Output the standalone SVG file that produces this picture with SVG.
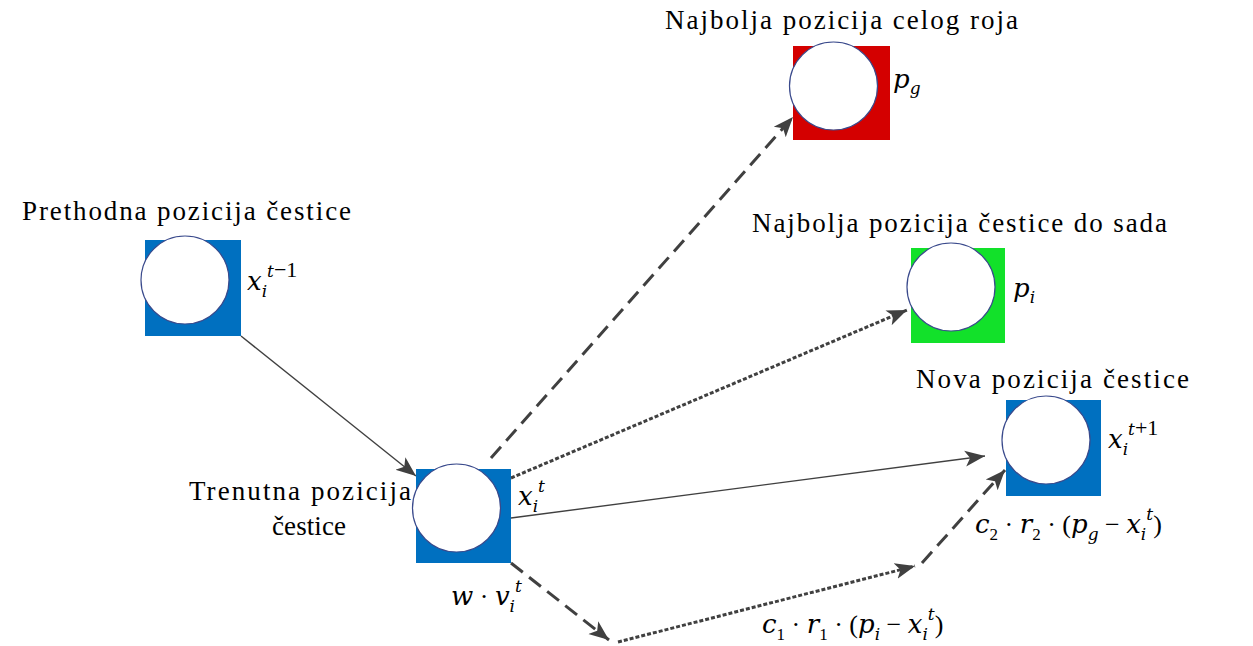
<svg xmlns="http://www.w3.org/2000/svg" width="1253" height="646" viewBox="0 0 1253 646">
  <style>
    text { font-family: 'Liberation Serif', 'Times New Roman', Tinos, 'DejaVu Serif', serif; fill: #000; }
    .lbl { font-size: 27px; }
    .math { font-size: 26px; }
    .sub { font-size: 17px; }
    .exp { font-size: 22px; }
    .ring { fill: #fff; stroke: #3a4a8c; stroke-width: 1.2; }
    .blue { fill: #0070c0; }
    .red { fill: #d40000; }
    .green { fill: #12e12a; }
    .edge { fill: none; stroke: #404040; }
    .solid { stroke-width: 1.4; }
    .dash { stroke-width: 3; stroke-dasharray: 15 8; }
    .dot { stroke-width: 3; stroke-dasharray: 4 2; }
  </style>
  <defs>
    <marker id="head" markerUnits="userSpaceOnUse" markerWidth="22" markerHeight="18" refX="20" refY="9" orient="auto">
      <path d="M0,1 L20,9 L0,17 L5,9 Z" fill="#404040"/>
    </marker>
  </defs>
  <rect width="1253" height="646" fill="#fff"/>

  <!-- connectors -->
  <g id="connectors">
    <line class="edge solid" x1="241" y1="336" x2="416" y2="476" marker-end="url(#head)"/>
    <line class="edge dash" x1="491" y1="458" x2="793" y2="117" marker-end="url(#head)"/>
    <line class="edge dot" x1="511" y1="478" x2="907" y2="310" marker-end="url(#head)"/>
    <line class="edge solid" x1="511" y1="518" x2="985" y2="456" marker-end="url(#head)"/>
    <line class="edge dash" x1="511" y1="563" x2="609" y2="640" marker-end="url(#head)"/>
    <line class="edge dot" x1="618" y1="642" x2="915" y2="566" marker-end="url(#head)"/>
    <line class="edge dash" x1="922" y1="563" x2="1005" y2="470" marker-end="url(#head)"/>
  </g>

  <!-- previous position -->
  <g id="node-previous">
    <rect class="blue" x="145" y="240" width="96" height="96"/>
    <circle class="ring" cx="185" cy="280" r="44"/>
    <text class="lbl" x="22" y="220" textLength="329" lengthAdjust="spacing">Prethodna pozicija čestice</text>
    <text class="math" x="247" y="290">𝑥<tspan class="sub" dy="7">𝑖</tspan><tspan class="sub" dy="-20">𝑡</tspan><tspan class="exp">−1</tspan></text>
  </g>

  <!-- current position -->
  <g id="node-current">
    <rect class="blue" x="416" y="469" width="95" height="94"/>
    <circle class="ring" cx="456.5" cy="508" r="44"/>
    <text class="lbl" x="189" y="500" textLength="222" lengthAdjust="spacing">Trenutna pozicija</text>
    <text class="lbl" x="272" y="535" textLength="74" lengthAdjust="spacing">čestice</text>
    <text class="math" x="518" y="505">𝑥<tspan class="sub" dy="7">𝑖</tspan><tspan class="sub" dy="-20">𝑡</tspan></text>
  </g>

  <!-- global best -->
  <g id="node-global-best">
    <rect class="red" x="793" y="46" width="97" height="94"/>
    <circle class="ring" cx="833.5" cy="86" r="44"/>
    <text class="lbl" x="665" y="29" textLength="353" lengthAdjust="spacing">Najbolja pozicija celog roja</text>
    <text class="math" x="893" y="88">𝑝<tspan class="sub" dy="6">𝑔</tspan></text>
  </g>

  <!-- personal best -->
  <g id="node-personal-best">
    <rect class="green" x="911" y="248" width="94" height="95"/>
    <circle class="ring" cx="951" cy="287" r="44"/>
    <text class="lbl" x="752" y="232" textLength="415" lengthAdjust="spacing">Najbolja pozicija čestice do sada</text>
    <text class="math" x="1013" y="297">𝑝<tspan class="sub" dy="6">𝑖</tspan></text>
  </g>

  <!-- new position -->
  <g id="node-new">
    <rect class="blue" x="1006" y="400" width="95" height="96"/>
    <circle class="ring" cx="1046" cy="440" r="44"/>
    <text class="lbl" x="916" y="388" textLength="273" lengthAdjust="spacing">Nova pozicija čestice</text>
    <text class="math" x="1108" y="448">𝑥<tspan class="sub" dy="7">𝑖</tspan><tspan class="sub" dy="-20">𝑡</tspan><tspan class="exp">+1</tspan></text>
  </g>

  <!-- velocity terms -->
  <g id="terms">
    <text class="math" x="451" y="605">𝑤 · 𝑣<tspan class="sub" dy="7">𝑖</tspan><tspan class="sub" dy="-20">𝑡</tspan></text>
    <text class="math" x="762" y="633">𝑐<tspan class="sub" dy="7">1</tspan><tspan dy="-7"> · 𝑟</tspan><tspan class="sub" dy="7">1</tspan><tspan dy="-7"> · (𝑝</tspan><tspan class="sub" dy="7">𝑖</tspan><tspan dy="-7"> − 𝑥</tspan><tspan class="sub" dy="7">𝑖</tspan><tspan class="sub" dy="-20">𝑡</tspan><tspan dy="13">)</tspan></text>
    <text class="math" x="975" y="533">𝑐<tspan class="sub" dy="7">2</tspan><tspan dy="-7"> · 𝑟</tspan><tspan class="sub" dy="7">2</tspan><tspan dy="-7"> · (𝑝</tspan><tspan class="sub" dy="7">𝑔</tspan><tspan dy="-7"> − 𝑥</tspan><tspan class="sub" dy="7">𝑖</tspan><tspan class="sub" dy="-20">𝑡</tspan><tspan dy="13">)</tspan></text>
  </g>
</svg>
